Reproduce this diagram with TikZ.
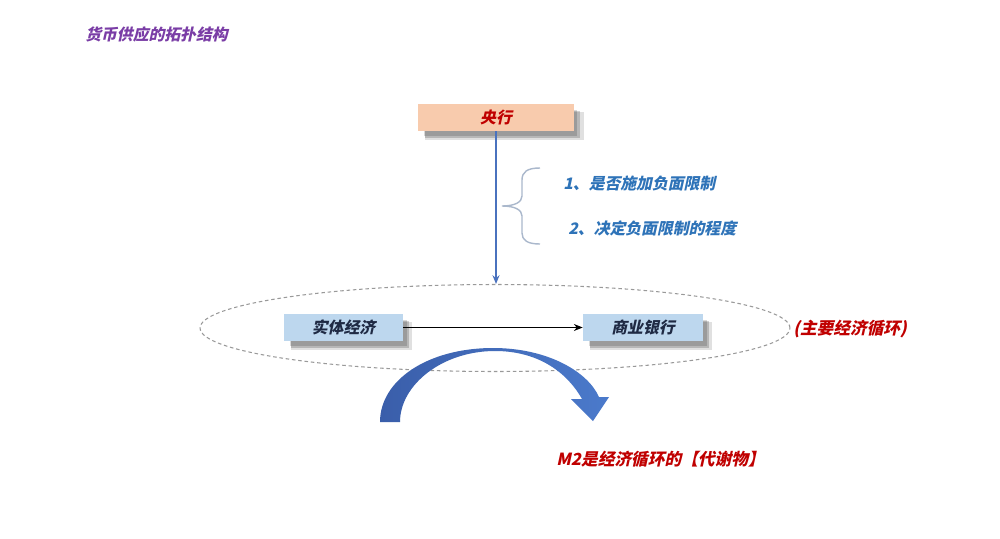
\documentclass[tikz,border=0pt]{standalone}
\usepackage{fontspec}
\newfontfamily\cjk[FakeSlant=0.22]{Noto Sans CJK SC}
\usetikzlibrary{shapes.geometric,shadows,arrows.meta}
\definecolor{titlepurple}{HTML}{7A3DA6}
\definecolor{salmon}{HTML}{F8CBAD}
\definecolor{boxblue}{HTML}{BDD7EE}
\definecolor{navytext}{HTML}{1F2A44}
\definecolor{itemblue}{HTML}{2E73B8}
\definecolor{darkred}{HTML}{C00000}
\definecolor{linkblue}{HTML}{4A72BE}
\definecolor{arcdark}{HTML}{3A5EAA}
\definecolor{arclight}{HTML}{4B7ACB}
\definecolor{bracegray}{HTML}{AAB8CC}
\tikzset{
  cjktext/.style={font=\cjk\bfseries\fontsize{9}{9}\selectfont, inner sep=0pt},
  boxshadow/.style={
    drop shadow={shadow xshift=0.16cm, shadow yshift=-0.17cm, fill=black, opacity=0.12, shadow scale=1.02},
    drop shadow={shadow xshift=0.13cm, shadow yshift=-0.14cm, fill=black, opacity=0.18},
    drop shadow={shadow xshift=0.10cm, shadow yshift=-0.11cm, fill=black, opacity=0.15, shadow scale=0.98}},
  salmonbox/.style={cjktext, fill=salmon, text=darkred, minimum width=3.12cm, minimum height=0.54cm, boxshadow},
  bluebox/.style={cjktext, fill=boxblue, text=navytext, minimum height=0.54cm, boxshadow},
  itemtext/.style={cjktext, text=itemblue, anchor=west},
  redtext/.style={cjktext, text=darkred, anchor=west, font=\cjk\bfseries\fontsize{9.5}{9.5}\selectfont},
}
\begin{document}
\begin{tikzpicture}[x=0.02cm,y=-0.02cm]
\useasboundingbox (0,0) rectangle (1000,538);
\fill[white] (0,0) rectangle (1000,538);

% title
\node[cjktext, text=titlepurple, anchor=west] (title) at (85,34) {货币供应的拓扑结构};

% dashed ellipse
\node[draw=gray!80, dash pattern=on 2pt off 1.6pt, line width=0.6pt, ellipse, minimum width=11.8cm, minimum height=1.74cm, inner sep=0pt] (loop) at (495,328) {};

% central bank
\node[salmonbox] (cb) at (496,117.5) {央行};

% vertical arrow
\draw[linkblue, line width=1.1pt, -{Stealth[length=5pt,width=4pt]}] (cb.south) -- (cb.south |- loop.north);

% brace
\draw[bracegray, line width=0.8pt]
  (540,168) .. controls (527,168) and (522,172) .. (522,180) -- (522,196)
  .. controls (522,202) and (515,206) .. (502,206)
  .. controls (515,206) and (522,210) .. (522,216) -- (522,233)
  .. controls (522,240) and (527,244) .. (540,244);

% items
\node[itemtext] (item1) at (563,183) {1、是否施加负面限制};
\node[itemtext] (item2) at (568,228) {2、决定负面限制的程度};

% boxes
\node[bluebox, minimum width=2.38cm] (real) at (343.5,327.5) {实体经济};
\node[bluebox, minimum width=2.4cm] (bank) at (643,327.5) {商业银行};
\draw[black, line width=0.6pt, -{Stealth[length=5pt,width=4pt]}] (real) -- (bank);

\node[redtext] (main) at (793,329) {(主要经济循环)};

% big curved arrow
\shade[left color=arcdark, right color=arclight]
  (380,422) .. controls (380,380) and (428,348) .. (493,348)
  .. controls (548,348) and (588,372) .. (599,397)
  -- (609,397) -- (593,421) -- (571,399) -- (582,399)
  .. controls (568,374) and (540,351) .. (495,351)
  .. controls (442,351) and (400,385) .. (400,422) -- cycle;

\node[redtext] (m2) at (556,459) {M2是经济循环的【代谢物】};
\end{tikzpicture}
\end{document}
